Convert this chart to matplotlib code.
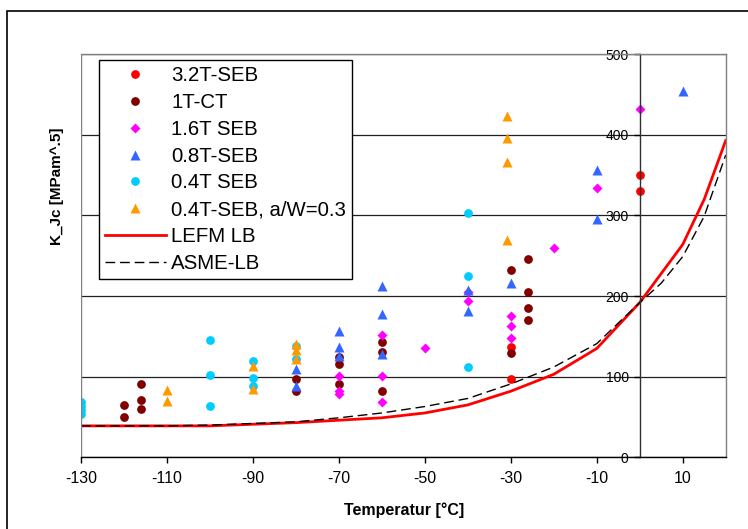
import matplotlib
matplotlib.use('Agg')
from matplotlib import pyplot as plt
from matplotlib.patches import Rectangle

plt.rcParams['font.family'] = ['Liberation Sans', 'DejaVu Sans']

# ---- data -----------------------------------------------------------
seb32_T = [0, 0, -30, -30]
seb32_K = [350, 331, 137, 97]

ct1_T = [-120, -120, -116, -116, -116, -80, -80, -70, -70, -70, -60, -60, -60,
         -30, -30, -26, -26, -26, -26]
ct1_K = [65, 50, 91, 71, 60, 97, 82, 124, 116, 91, 143, 131, 82,
         232, 129, 246, 205, 185, 170]

seb16_T = [-70, -70, -70, -60, -60, -60, -50, -40, -40, -30, -30, -30, -20, -10, 0]
seb16_K = [101, 82, 78, 152, 101, 68, 136, 205, 194, 175, 163, 148, 260, 334, 432]

seb08_T = [-80, -80, -70, -70, -70, -60, -60, -60, -40, -40, -30, -10, -10, 10]
seb08_K = [109, 88, 157, 137, 126, 212, 178, 128, 207, 182, 216, 356, 296, 455]

seb04_T = [-130, -130, -130, -130, -100, -100, -100, -90, -90, -90, -80, -80,
           -40, -40, -40]
seb04_K = [69, 64, 59, 54, 145, 102, 64, 120, 99, 88, 138, 122,
           303, 225, 112]

seb04a_T = [-110, -110, -90, -90, -80, -80, -80, -31, -31, -31, -31]
seb04a_K = [84, 70, 113, 85, 141, 133, 122, 423, 396, 366, 269]

lb_T = [-130, -120, -110, -100, -90, -80, -70, -60, -50, -40, -30, -20, -10,
        0, 5, 10, 15, 20]
lefm_K = [39, 39, 39, 39, 41, 43, 46, 49, 55, 65, 82, 103, 135,
          192, 228, 264, 320, 393]
asme_K = [39, 39, 39, 40, 42, 44, 49, 55, 63, 73, 91, 112, 141,
          192, 216, 249, 299, 375]

x_ticks = [-130, -110, -90, -70, -50, -30, -10, 10]
y_ticks = [0, 100, 200, 300, 400, 500]

# ---- figure ------------------------------------------------------------
fig = plt.figure(figsize=(7.48, 5.29), dpi=100)
ax = fig.add_axes([81 / 748, 1 - 457.3 / 529, (725.7 - 81) / 748, (457.3 - 54.3) / 529])

# outer chart frame (runs off the picture to the right and bottom)
fig.patches.append(Rectangle((7 / 748, -0.2), 1.2, 1.2 - 11 / 529,
                             transform=fig.transFigure, fill=False,
                             edgecolor='black', linewidth=1.2))

ms = 6.3
ax.plot(seb32_T, seb32_K, 'o', color='#FF0000', ms=ms, mec='none', label='3.2T-SEB')
ax.plot(ct1_T, ct1_K, 'o', color='#800000', ms=ms, mec='none', label='1T-CT')
ax.plot(seb16_T, seb16_K, 'D', color='#FF00FF', ms=5.6, mec='none', label='1.6T SEB')
ax.plot(seb08_T, seb08_K, '^', color='#3366FF', ms=7.5, mec='none', label='0.8T-SEB')
ax.plot(seb04_T, seb04_K, 'o', color='#00CCFF', ms=ms, mec='none', label='0.4T SEB')
ax.plot(seb04a_T, seb04a_K, '^', color='#FF9900', ms=7.5, mec='none',
        label='0.4T-SEB, a/W=0.3')
ax.plot(lb_T, lefm_K, '-', color='#FF0000', lw=2.0, label='LEFM LB')
ax.plot(lb_T, asme_K, '--', color='black', lw=1.0, dashes=(7, 3.5), label='ASME-LB')

ax.set_xlim(-130, 20)
ax.set_ylim(0, 500)
ax.set_xticks(x_ticks)
ax.set_yticks(y_ticks)
ax.set_xticklabels([str(t) for t in x_ticks], fontsize=11.5)
ax.set_yticklabels([str(t) for t in y_ticks], fontsize=12)

ax.set_axisbelow(True)
ax.yaxis.grid(True, color='#202020', linewidth=0.9)

for side in ['top', 'right']:
    ax.spines[side].set_color('#808080')
    ax.spines[side].set_linewidth(1.0)
ax.spines['bottom'].set_color('black')
ax.spines['bottom'].set_linewidth(1.0)
ax.spines['left'].set_position(('data', 0))
ax.spines['left'].set_color('#303030')
ax.spines['left'].set_linewidth(1.0)
ax.axvline(-130, color='#808080', linewidth=1.0, zorder=2.5)

ax.tick_params(axis='x', direction='out', length=4, width=1, pad=6, colors='black')
ax.tick_params(axis='y', direction='out', length=4, width=1, pad=4, colors='black')

fig.text(57.5 / 748, 1 - 186 / 529, 'K_Jc [MPam^.5]', rotation=90, ha='center',
         va='center', fontsize=11, fontweight='bold')
fig.text(404 / 748, 1 - 510 / 529, 'Temperatur [°C]', ha='center', va='center',
         fontsize=11.5, fontweight='bold')

leg = ax.legend(loc='upper left', bbox_to_anchor=(98.7 / 748, 1 - 60.3 / 529),
                bbox_transform=fig.transFigure, borderaxespad=0, fontsize=14.7,
                numpoints=1, handlelength=3.0, handletextpad=0.25,
                labelspacing=0.38, borderpad=0.3, fancybox=False, framealpha=1)
leg.get_frame().set_edgecolor('black')
leg.get_frame().set_linewidth(1.0)

plt.savefig('out.png', dpi=100)
